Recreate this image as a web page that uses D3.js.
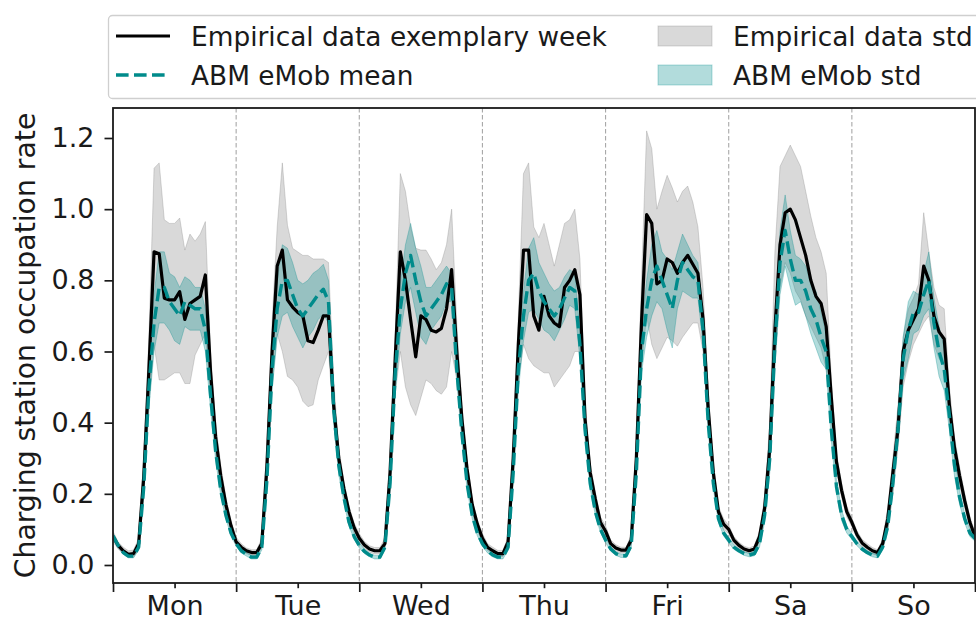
<!DOCTYPE html>
<html>
<head>
<meta charset="utf-8">
<script src="https://cdn.jsdelivr.net/npm/d3@7"></script>
<style>
  body { margin: 0; background: #ffffff; }
  svg { display: block; }
  text { font-family: "DejaVu Sans", sans-serif; fill: #1a1a1a; }
</style>
</head>
<body>
<svg id="chart" width="976" height="619"></svg>
<script>
// Weekday labels and y tick values
const days = ["Mon", "Tue", "Wed", "Thu", "Fri", "Sa", "So"];
const yTicks = [0.0, 0.2, 0.4, 0.6, 0.8, 1.0, 1.2];

// Hourly occupation rate, hour 0 (Mon 00:00) .. hour 168 (end of Sunday)
const empiricalWeek = [
  0.080, 0.055, 0.040, 0.030, 0.032, 0.060, 0.250, 0.550, 0.880, 0.875, 0.750, 0.745, 0.745, 0.768, 0.690, 0.735, 0.745, 0.755, 0.815, 0.545, 0.360, 0.250, 0.170, 0.110,
  0.065, 0.050, 0.040, 0.035, 0.035, 0.060, 0.280, 0.600, 0.840, 0.885, 0.745, 0.725, 0.710, 0.700, 0.630, 0.625, 0.660, 0.700, 0.700, 0.450, 0.300, 0.215, 0.150, 0.105,
  0.075, 0.056, 0.045, 0.040, 0.040, 0.060, 0.260, 0.580, 0.880, 0.800, 0.690, 0.585, 0.700, 0.690, 0.660, 0.655, 0.665, 0.720, 0.830, 0.600, 0.410, 0.270, 0.170, 0.115,
  0.075, 0.050, 0.040, 0.032, 0.032, 0.065, 0.300, 0.620, 0.885, 0.885, 0.700, 0.660, 0.755, 0.700, 0.680, 0.670, 0.780, 0.800, 0.830, 0.760, 0.410, 0.260, 0.185, 0.120,
  0.095, 0.060, 0.048, 0.042, 0.042, 0.070, 0.300, 0.680, 0.985, 0.960, 0.790, 0.800, 0.860, 0.850, 0.820, 0.850, 0.870, 0.845, 0.820, 0.690, 0.440, 0.260, 0.150, 0.115,
  0.100, 0.070, 0.055, 0.045, 0.040, 0.045, 0.080, 0.160, 0.330, 0.660, 0.900, 0.990, 1.000, 0.970, 0.920, 0.870, 0.800, 0.755, 0.735, 0.670, 0.470, 0.290, 0.210, 0.150,
  0.120, 0.085, 0.062, 0.050, 0.040, 0.035, 0.060, 0.130, 0.260, 0.385, 0.600, 0.660, 0.690, 0.720, 0.840, 0.800, 0.700, 0.655, 0.635, 0.450, 0.330, 0.250, 0.180, 0.120,
  0.080
];

// Lower / upper edge of the empirical standard deviation band
const empiricalStdLow = [
  0.065, 0.045, 0.032, 0.022, 0.022, 0.045, 0.200, 0.450, 0.620, 0.520, 0.520, 0.530, 0.540, 0.540, 0.510, 0.510, 0.590, 0.620, 0.650, 0.480, 0.320, 0.220, 0.150, 0.095,
  0.055, 0.042, 0.032, 0.027, 0.027, 0.048, 0.220, 0.500, 0.650, 0.600, 0.530, 0.520, 0.500, 0.460, 0.445, 0.450, 0.520, 0.560, 0.600, 0.400, 0.270, 0.195, 0.135, 0.092,
  0.063, 0.046, 0.036, 0.031, 0.031, 0.048, 0.210, 0.480, 0.600, 0.500, 0.450, 0.420, 0.470, 0.520, 0.510, 0.490, 0.480, 0.500, 0.600, 0.520, 0.370, 0.245, 0.155, 0.100,
  0.063, 0.041, 0.031, 0.024, 0.024, 0.052, 0.240, 0.520, 0.620, 0.580, 0.560, 0.550, 0.540, 0.540, 0.500, 0.520, 0.540, 0.560, 0.600, 0.600, 0.360, 0.235, 0.165, 0.105,
  0.080, 0.050, 0.039, 0.034, 0.034, 0.058, 0.250, 0.560, 0.700, 0.620, 0.580, 0.610, 0.640, 0.630, 0.615, 0.640, 0.660, 0.680, 0.680, 0.600, 0.390, 0.235, 0.135, 0.100,
  0.088, 0.060, 0.046, 0.037, 0.032, 0.036, 0.065, 0.130, 0.270, 0.550, 0.780, 0.850, 0.820, 0.770, 0.745, 0.700, 0.670, 0.640, 0.610, 0.550, 0.420, 0.265, 0.190, 0.135,
  0.108, 0.074, 0.052, 0.040, 0.031, 0.027, 0.048, 0.100, 0.200, 0.330, 0.500, 0.570, 0.620, 0.650, 0.680, 0.700, 0.620, 0.580, 0.560, 0.400, 0.300, 0.225, 0.160, 0.105,
  0.068
];
const empiricalStdHigh = [
  0.095, 0.065, 0.050, 0.040, 0.042, 0.075, 0.300, 0.640, 1.115, 1.130, 0.970, 0.960, 0.960, 0.975, 0.885, 0.930, 0.910, 0.930, 0.965, 0.600, 0.400, 0.280, 0.190, 0.125,
  0.078, 0.060, 0.048, 0.043, 0.043, 0.075, 0.320, 0.680, 0.950, 1.130, 0.955, 0.890, 0.880, 0.870, 0.870, 0.860, 0.860, 0.860, 0.850, 0.520, 0.330, 0.235, 0.165, 0.118,
  0.088, 0.066, 0.054, 0.049, 0.049, 0.075, 0.300, 0.640, 1.100, 1.050, 0.950, 0.890, 0.885, 0.885, 0.860, 0.830, 0.850, 0.900, 1.000, 0.680, 0.450, 0.295, 0.185, 0.128,
  0.088, 0.060, 0.050, 0.041, 0.041, 0.080, 0.340, 0.700, 1.100, 1.130, 0.950, 0.920, 0.960, 0.900, 0.840, 0.900, 0.960, 0.970, 1.000, 0.860, 0.460, 0.285, 0.205, 0.135,
  0.110, 0.070, 0.057, 0.050, 0.050, 0.085, 0.350, 0.800, 1.220, 1.170, 1.000, 1.050, 1.095, 1.060, 1.020, 1.050, 1.065, 1.020, 0.950, 0.780, 0.490, 0.285, 0.165, 0.130,
  0.112, 0.080, 0.064, 0.053, 0.048, 0.054, 0.095, 0.190, 0.400, 0.880, 1.120, 1.150, 1.180, 1.150, 1.120, 1.050, 0.980, 0.920, 0.880, 0.820, 0.520, 0.315, 0.230, 0.165,
  0.132, 0.096, 0.072, 0.060, 0.049, 0.043, 0.072, 0.160, 0.300, 0.450, 0.640, 0.720, 0.750, 0.790, 0.990, 0.880, 0.780, 0.730, 0.720, 0.500, 0.360, 0.275, 0.200, 0.135,
  0.092
];

// ABM eMob simulation: mean and standard deviation per hour
const abmMean = [
  0.082, 0.055, 0.035, 0.025, 0.025, 0.050, 0.220, 0.500, 0.680, 0.780, 0.780, 0.740, 0.720, 0.700, 0.740, 0.730, 0.720, 0.720, 0.660, 0.480, 0.320, 0.210, 0.140, 0.090,
  0.060, 0.040, 0.030, 0.022, 0.022, 0.050, 0.240, 0.550, 0.720, 0.800, 0.800, 0.760, 0.720, 0.700, 0.720, 0.740, 0.760, 0.775, 0.740, 0.440, 0.280, 0.190, 0.120, 0.080,
  0.055, 0.038, 0.028, 0.022, 0.022, 0.050, 0.230, 0.540, 0.720, 0.820, 0.870, 0.800, 0.740, 0.700, 0.720, 0.740, 0.760, 0.790, 0.780, 0.550, 0.370, 0.230, 0.140, 0.090,
  0.060, 0.040, 0.028, 0.022, 0.022, 0.050, 0.260, 0.550, 0.700, 0.800, 0.820, 0.770, 0.740, 0.720, 0.700, 0.720, 0.750, 0.780, 0.770, 0.620, 0.380, 0.230, 0.150, 0.100,
  0.070, 0.045, 0.032, 0.026, 0.026, 0.055, 0.260, 0.600, 0.720, 0.800, 0.840, 0.800, 0.760, 0.720, 0.800, 0.850, 0.830, 0.810, 0.800, 0.660, 0.400, 0.230, 0.130, 0.090,
  0.070, 0.050, 0.040, 0.032, 0.028, 0.032, 0.060, 0.140, 0.300, 0.620, 0.850, 0.940, 0.860, 0.800, 0.800, 0.770, 0.720, 0.690, 0.640, 0.600, 0.380, 0.220, 0.140, 0.100,
  0.080, 0.060, 0.045, 0.035, 0.028, 0.025, 0.050, 0.110, 0.230, 0.380, 0.580, 0.660, 0.710, 0.710, 0.760, 0.800, 0.680, 0.600, 0.550, 0.420, 0.280, 0.190, 0.130, 0.090,
  0.075
];
const abmStd = [
  0.008, 0.006, 0.005, 0.005, 0.005, 0.008, 0.030, 0.060, 0.080, 0.100, 0.100, 0.080, 0.090, 0.080, 0.070, 0.070, 0.060, 0.060, 0.060, 0.040, 0.025, 0.015, 0.010, 0.008,
  0.007, 0.006, 0.005, 0.005, 0.005, 0.008, 0.030, 0.060, 0.080, 0.100, 0.090, 0.090, 0.080, 0.090, 0.080, 0.080, 0.070, 0.070, 0.060, 0.040, 0.025, 0.015, 0.010, 0.008,
  0.007, 0.006, 0.005, 0.005, 0.005, 0.008, 0.030, 0.060, 0.070, 0.080, 0.090, 0.090, 0.100, 0.080, 0.060, 0.060, 0.060, 0.050, 0.040, 0.030, 0.025, 0.015, 0.010, 0.008,
  0.007, 0.006, 0.005, 0.005, 0.005, 0.008, 0.030, 0.060, 0.070, 0.090, 0.100, 0.080, 0.080, 0.070, 0.070, 0.060, 0.060, 0.050, 0.050, 0.040, 0.025, 0.015, 0.010, 0.008,
  0.007, 0.006, 0.005, 0.005, 0.005, 0.008, 0.030, 0.060, 0.080, 0.100, 0.100, 0.080, 0.100, 0.110, 0.080, 0.080, 0.070, 0.060, 0.050, 0.040, 0.025, 0.015, 0.010, 0.008,
  0.008, 0.006, 0.005, 0.005, 0.005, 0.006, 0.010, 0.020, 0.040, 0.060, 0.090, 0.100, 0.080, 0.070, 0.060, 0.070, 0.070, 0.080, 0.070, 0.050, 0.030, 0.020, 0.015, 0.010,
  0.008, 0.006, 0.005, 0.005, 0.005, 0.005, 0.008, 0.015, 0.025, 0.030, 0.060, 0.080, 0.060, 0.050, 0.060, 0.080, 0.070, 0.070, 0.060, 0.040, 0.030, 0.020, 0.012, 0.010,
  0.008
];

// ---- layout ----
const plot = { left: 113, right: 975, top: 108, bottom: 583 };
const TICK_FS = 27;
const LABEL_FS = 28.3;
const LEGEND_FS = 26.4;
const TEAL = "#008b8b";

const svg = d3.select("#chart");
const hours = d3.range(empiricalWeek.length);
const hoursPerDay = 24;

const x = d3.scaleLinear().domain([0, 168]).range([plot.left, plot.right]);
const y = d3.scaleLinear().domain([-0.0506, 1.2843]).range([plot.bottom, plot.top]);

svg.append("defs").append("clipPath").attr("id", "plotClip")
  .append("rect")
  .attr("x", plot.left).attr("y", plot.top)
  .attr("width", plot.right - plot.left).attr("height", plot.bottom - plot.top);

const g = svg.append("g").attr("clip-path", "url(#plotClip)");

// day separators
g.selectAll("line.sep")
  .data(d3.range(1, days.length).map(d => d * hoursPerDay))
  .join("line")
  .attr("class", "sep")
  .attr("x1", d => x(d)).attr("x2", d => x(d))
  .attr("y1", plot.top).attr("y2", plot.bottom)
  .attr("stroke", "#a8a8a8").attr("stroke-width", 1.1)
  .attr("stroke-dasharray", "4.5,2.5");

// empirical std band
g.append("path")
  .datum(hours)
  .attr("d", d3.area()
    .x(i => x(i))
    .y0(i => y(empiricalStdLow[i]))
    .y1(i => y(empiricalStdHigh[i])))
  .attr("fill", "#808080").attr("fill-opacity", 0.3)
  .attr("stroke", "#808080").attr("stroke-opacity", 0.3).attr("stroke-width", 1);

// ABM std band
g.append("path")
  .datum(hours)
  .attr("d", d3.area()
    .x(i => x(i))
    .y0(i => y(abmMean[i] - abmStd[i]))
    .y1(i => y(abmMean[i] + abmStd[i])))
  .attr("fill", TEAL).attr("fill-opacity", 0.3)
  .attr("stroke", TEAL).attr("stroke-opacity", 0.3).attr("stroke-width", 1);

// empirical exemplary week
g.append("path")
  .datum(hours)
  .attr("d", d3.line().x(i => x(i)).y(i => y(empiricalWeek[i])))
  .attr("fill", "none").attr("stroke", "#000").attr("stroke-width", 3.2)
  .attr("stroke-linejoin", "round");

// ABM mean
g.append("path")
  .datum(hours)
  .attr("d", d3.line().x(i => x(i)).y(i => y(abmMean[i])))
  .attr("fill", "none").attr("stroke", TEAL).attr("stroke-width", 3.4)
  .attr("stroke-dasharray", "12.6,5.4").attr("stroke-linejoin", "round");

// ---- axes ----
const yAxis = svg.append("g")
  .attr("transform", `translate(${plot.left},0)`)
  .call(d3.axisLeft(y).tickValues(yTicks).tickFormat(d3.format(".1f"))
    .tickSize(8.5).tickPadding(10));

const xMajor = svg.append("g")
  .attr("transform", `translate(0,${plot.bottom})`)
  .call(d3.axisBottom(x).tickValues(d3.range(0, 169, hoursPerDay))
    .tickFormat("").tickSize(9));

const xMinor = svg.append("g")
  .attr("transform", `translate(0,${plot.bottom})`)
  .call(d3.axisBottom(x).tickValues(days.map((d, i) => i * hoursPerDay + hoursPerDay / 2))
    .tickFormat((d, i) => days[i]).tickSize(5.2).tickPadding(7.8));

[yAxis, xMajor, xMinor].forEach(a => {
  a.select(".domain").remove();
  a.selectAll(".tick line").attr("stroke", "#1a1a1a").attr("stroke-width", 1.7);
  a.selectAll(".tick text")
    .attr("font-size", TICK_FS).attr("font-family", "DejaVu Sans").attr("fill", "#1a1a1a");
});

// frame
svg.append("rect")
  .attr("x", plot.left).attr("y", plot.top)
  .attr("width", plot.right - plot.left).attr("height", plot.bottom - plot.top)
  .attr("fill", "none").attr("stroke", "#1a1a1a").attr("stroke-width", 1.8);

// y axis title
svg.append("text")
  .attr("transform", `translate(35,${(plot.top + plot.bottom) / 2}) rotate(-90)`)
  .attr("text-anchor", "middle")
  .attr("font-size", LABEL_FS)
  .text("Charging station occupation rate");

// ---- legend ----
const legend = svg.append("g");
legend.append("rect")
  .attr("x", 108.5).attr("y", 15.5).attr("width", 900).attr("height", 83)
  .attr("rx", 4).attr("fill", "#fff").attr("fill-opacity", 0.8)
  .attr("stroke", "#cfcfcf").attr("stroke-width", 1.3);

const legendItems = [
  { label: "Empirical data exemplary week", kind: "line", col: 0, row: 0 },
  { label: "ABM eMob mean", kind: "dash", col: 0, row: 1 },
  { label: "Empirical data std", kind: "grayPatch", col: 1, row: 0 },
  { label: "ABM eMob std", kind: "tealPatch", col: 1, row: 1 }
];
const colX = [116, 658];
const rowY = [36, 75];

legendItems.forEach(it => {
  const hx = colX[it.col], cy = rowY[it.row];
  if (it.kind === "line") {
    legend.append("line").attr("x1", hx).attr("x2", hx + 54).attr("y1", cy).attr("y2", cy)
      .attr("stroke", "#000").attr("stroke-width", 3.2);
  } else if (it.kind === "dash") {
    legend.append("line").attr("x1", hx).attr("x2", hx + 54).attr("y1", cy).attr("y2", cy)
      .attr("stroke", TEAL).attr("stroke-width", 3.4).attr("stroke-dasharray", "12.6,5.4");
  } else {
    const c = it.kind === "grayPatch" ? "#808080" : TEAL;
    legend.append("rect").attr("x", hx).attr("y", cy - 10).attr("width", 54).attr("height", 20)
      .attr("fill", c).attr("fill-opacity", 0.3)
      .attr("stroke", c).attr("stroke-opacity", 0.3).attr("stroke-width", 1);
  }
  legend.append("text")
    .attr("x", hx + 75).attr("y", cy + 0.364 * LEGEND_FS)
    .attr("font-size", LEGEND_FS)
    .text(it.label);
});
</script>
</body>
</html>
